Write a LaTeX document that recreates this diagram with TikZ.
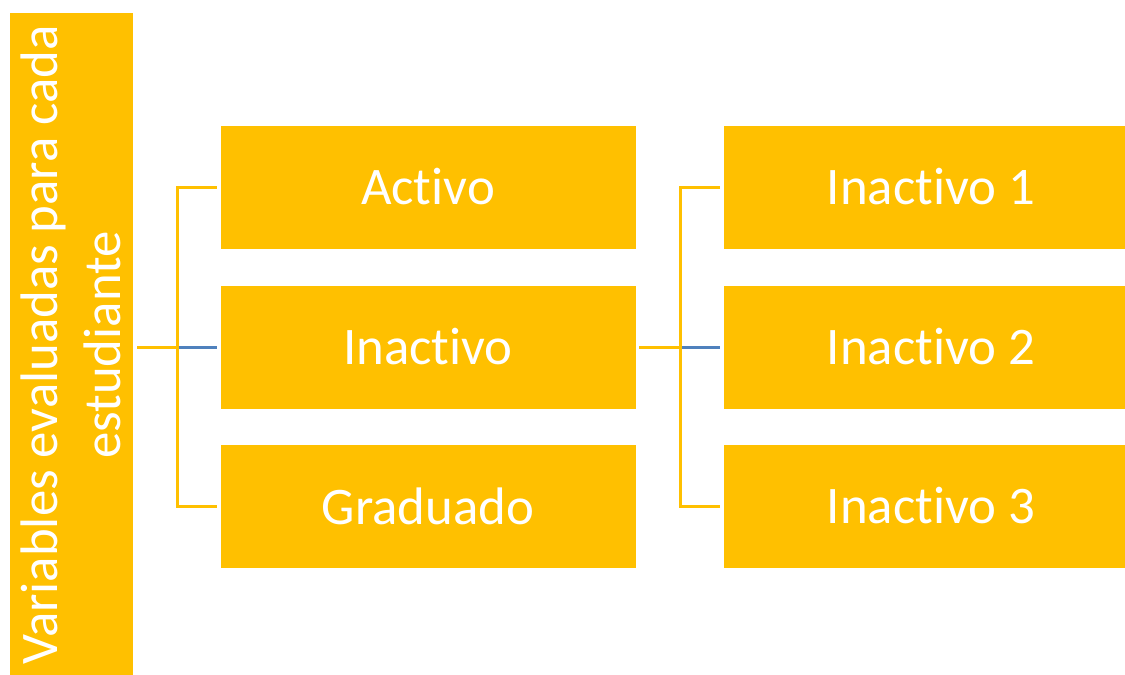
\documentclass[tikz,border=0pt]{standalone}
\usepackage{fontspec}
\setmainfont[Ligatures=NoCommon]{Carlito}
\usetikzlibrary{positioning}

\definecolor{boxYellow}{HTML}{FFC000}
\definecolor{lineBlue}{HTML}{4F81BD}

\begin{document}
\begin{tikzpicture}
[x=1pt,y=-1pt,
  boxDecorate/.style={fill=boxYellow,draw=white,line width=0.8pt,
    minimum width=416pt,minimum height=124pt,inner sep=0pt,
    text=white,font=\fontsize{52.8}{63}\selectfont},%
  rootDecorate/.style={boxDecorate,rotate=90,minimum width=666pt,
    align=center},%
  lineDecorate/.style={-,draw=boxYellow,line width=3pt},%
  midDecorate/.style={-,draw=lineBlue,line width=3pt}]
\useasboundingbox (0,0) rectangle (1125,675);
\clip (0,0) rectangle (1125,675);
%% root box
\node (root) at (71,345) [rootDecorate,minimum height=124pt]
  {Variables evaluadas para cada\\estudiante};
%% status boxes and inactive levels
\foreach \nodename/\x/\y/\txt in {
  act/428/187/Activo, inac/428/347/Inactivo, grad/428/506/Graduado,
  ina1/931/187/Inactivo 1, ina2/931/347/Inactivo 2, ina3/931/506/Inactivo 3}
{
  \node (\nodename) at (\x,\y) [boxDecorate] {\txt};
}
%% junctions
\coordinate (jL) at (177,347);
\coordinate (jR) at (680,347);
%% connectors
\draw[lineDecorate,shorten <=4pt] (root.south |- jL) -- (jL);
\draw[midDecorate,shorten >=3pt] (jL) -- (inac.west);
\draw[lineDecorate,shorten <=3pt] (act.west) -| (jL);
\draw[lineDecorate,shorten <=3pt] (grad.west) -| (jL);
\draw[lineDecorate,shorten <=3pt] (inac.east) -- (jR);
\draw[midDecorate,shorten >=3pt] (jR) -- (ina2.west);
\draw[lineDecorate,shorten <=3pt] (ina1.west) -| (jR);
\draw[lineDecorate,shorten <=3pt] (ina3.west) -| (jR);
\end{tikzpicture}
\end{document}
